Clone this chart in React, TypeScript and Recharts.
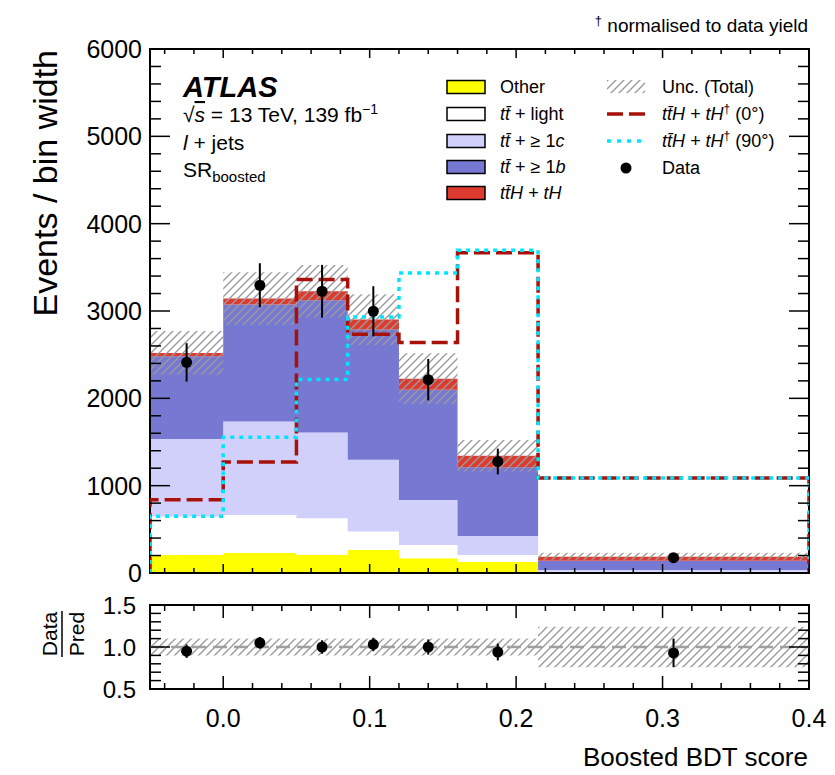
import React from 'react';
import {
  ComposedChart, Area, Line, Scatter, ErrorBar, XAxis, YAxis, ReferenceArea, ReferenceLine,
} from 'recharts';

// bin edges of the boosted BDT score
const binEdges = [-0.05, 0.0, 0.05, 0.085, 0.12, 0.16, 0.215, 0.4];

// stacked predictions (events / bin width), one value per bin
const other = [206, 233, 210, 262, 170, 130, 5];
const ttLight = [440, 432, 417, 212, 151, 76, 10];
const ttC = [888, 1070, 982, 822, 516, 218, 20];
const ttB = [947, 1339, 1514, 1491, 1262, 788, 106];
const ttH = [39, 69, 103, 115, 126, 130, 46];
const uncTotal = [250, 300, 300, 290, 290, 180, 45];

// normalised signal shapes
const shape0 = [840, 1272, 3360, 2734, 2640, 3667, 1087];
const shape90 = [651, 1553, 2215, 2931, 3434, 3697, 1087];

// data
const dataVals = [2412, 3295, 3226, 2997, 2214, 1277, 175];
const dataErr = [220, 252, 302, 287, 237, 147, 35];

// ratio panel
const ratioVals = [0.95, 1.05, 1.0, 1.03, 1.0, 0.94, 0.93];
const ratioErr = [0.08, 0.07, 0.08, 0.08, 0.09, 0.1, 0.17];
const ratioUnc = [0.1, 0.1, 0.1, 0.1, 0.1, 0.1, 0.24];

// axes
const xMajor = [0.0, 0.1, 0.2, 0.3, 0.4];
const yMajor = [0, 1000, 2000, 3000, 4000, 5000, 6000];
const ratioMajor = [0.5, 1.0, 1.5];

const xTicks: number[] = [];
for (let i = -2; i <= 20; i++) xTicks.push(i / 50);
const yTicks: number[] = [];
for (let v = 0; v <= 6000; v += 200) yTicks.push(v);
const ratioTicks: number[] = [];
for (let i = 5; i <= 15; i++) ratioTicks.push(i / 10);

const FONT = '"Liberation Sans", Arial, Helvetica, sans-serif';
const X_DOMAIN: [number, number] = [-0.05, 0.4];
const PLOT_W = 659;
const MAIN_PLOT_H = 524;
const RATIO_PLOT_H = 84;

const COLORS = {
  other: '#ffff00',
  light: '#ffffff',
  c: '#d0d0fb',
  b: '#7678d1',
  tth: '#de3b30',
  dashed: '#a8100a',
  dotted: '#00e5ff',
  hatch: '#9a9a9a',
};

const last = binEdges.length - 1;
const binOf = (i: number) => Math.min(i, last - 1);

const histRows = binEdges.map((x, i) => {
  const b = binOf(i);
  const total = other[b] + ttLight[b] + ttC[b] + ttB[b] + ttH[b];
  return {
    x,
    other: other[b],
    light: ttLight[b],
    c: ttC[b],
    b: ttB[b],
    tth: ttH[b],
    unc: [total - uncTotal[b], total + uncTotal[b]],
  };
});

const ratioRows = binEdges.map((x, i) => {
  const b = binOf(i);
  return { x, band: [1 - ratioUnc[b], 1 + ratioUnc[b]] };
});

const stepRows = (vals: number[]) => [
  { x: binEdges[0], v: 0 },
  ...binEdges.map((x, i) => ({ x, v: vals[binOf(i)] })),
  { x: binEdges[last], v: 0 },
];

const centers = dataVals.map((_, i) => (binEdges[i] + binEdges[i + 1]) / 2);
const dataPoints = dataVals.map((y, i) => ({ x: centers[i], y, err: dataErr[i] }));
const ratioPoints = ratioVals.map((y, i) => ({ x: centers[i], y, err: ratioErr[i] }));

const near = (a: number, list: number[]) => list.some((m) => Math.abs(m - a) < 1e-6);

const makeXTick = (plotH: number, majLen: number, minLen: number, showLabel: boolean) =>
  (props: any) => {
    const { x, y, payload } = props;
    const v = payload.value as number;
    const major = near(v, xMajor);
    const len = major ? majLen : minLen;
    return (
      <g>
        <line x1={x} x2={x} y1={y} y2={y - len} stroke="#000" strokeWidth={1.5} />
        <line x1={x} x2={x} y1={y - plotH} y2={y - plotH + len} stroke="#000" strokeWidth={1.5} />
        {showLabel && major && (
          <text x={x} y={y + 29} textAnchor="middle" dy="0.36em" fontSize={25} fontFamily={FONT} fill="#000">
            {v.toFixed(1)}
          </text>
        )}
      </g>
    );
  };

const makeYTick = (majors: number[], majLen: number, minLen: number, gap: number, fontSize: number, fmt: (v: number) => string) =>
  (props: any) => {
    const { x, y, payload } = props;
    const v = payload.value as number;
    const major = near(v, majors);
    const len = major ? majLen : minLen;
    return (
      <g>
        <line x1={x} x2={x + len} y1={y} y2={y} stroke="#000" strokeWidth={1.5} />
        <line x1={x + PLOT_W} x2={x + PLOT_W - len} y1={y} y2={y} stroke="#000" strokeWidth={1.5} />
        {major && (
          <text x={x - gap} y={y} textAnchor="end" dy="0.36em" fontSize={fontSize} fontFamily={FONT} fill="#000">
            {fmt(v)}
          </text>
        )}
      </g>
    );
  };

const dot = (p: any) => <circle cx={p.cx} cy={p.cy} r={5.5} fill="#000" />;

const tt = <tspan fontStyle="italic">{'tt\u0304'}</tspan>;

const legendLeft = [
  { key: 'other', color: COLORS.other, label: <>Other</> },
  { key: 'light', color: COLORS.light, label: <>{tt} + light</> },
  { key: 'c', color: COLORS.c, label: <>{tt} + {'\u2265'} 1<tspan fontStyle="italic">c</tspan></> },
  { key: 'b', color: COLORS.b, label: <>{tt} + {'\u2265'} 1<tspan fontStyle="italic">b</tspan></> },
  { key: 'tth', color: COLORS.tth, label: <tspan fontStyle="italic">{'tt\u0304H + tH'}</tspan> },
];
const legendRows = [87, 114, 141, 167, 193];

const shapeLabel = (angle: string) => (
  <>
    <tspan fontStyle="italic">{'tt\u0304H + tH'}</tspan>
    <tspan fontSize={12} dy={-7}>{'\u2020'}</tspan>
    <tspan dy={7}>{` (${angle}\u00b0)`}</tspan>
  </>
);

export default function App() {
  return (
    <div style={{ position: 'absolute', left: 0, top: 0, width: 835, height: 775, background: '#fff' }}>
      <div style={{ position: 'absolute', left: 0, top: 0 }}>
        <ComposedChart width={835} height={600} data={histRows} margin={{ top: 49, right: 26, left: 0, bottom: 0 }}>
          <XAxis
            type="number" dataKey="x" domain={X_DOMAIN} allowDataOverflow ticks={xTicks} interval={0}
            height={27} tickSize={0} tickMargin={0} tickLine={false} axisLine={false}
            tick={makeXTick(MAIN_PLOT_H, 9, 5, false)}
          />
          <YAxis
            type="number" domain={[0, 6000]} allowDataOverflow ticks={yTicks} interval={0}
            width={150} tickSize={0} tickMargin={0} tickLine={false} axisLine={false}
            tick={makeYTick(yMajor, 20, 11, 8, 25, (v) => String(v))}
          />
          <Area dataKey="other" stackId="s" type="stepAfter" fill={COLORS.other} fillOpacity={1} stroke="none" isAnimationActive={false} />
          <Area dataKey="light" stackId="s" type="stepAfter" fill={COLORS.light} fillOpacity={1} stroke="none" isAnimationActive={false} />
          <Area dataKey="c" stackId="s" type="stepAfter" fill={COLORS.c} fillOpacity={1} stroke="none" isAnimationActive={false} />
          <Area dataKey="b" stackId="s" type="stepAfter" fill={COLORS.b} fillOpacity={1} stroke="none" isAnimationActive={false} />
          <Area dataKey="tth" stackId="s" type="stepAfter" fill={COLORS.tth} fillOpacity={1} stroke="none" isAnimationActive={false} />
          <Area dataKey="unc" type="stepAfter" fill="url(#hatch)" fillOpacity={1} stroke="none" isAnimationActive={false} />
          <Line data={stepRows(shape0)} dataKey="v" type="stepAfter" stroke={COLORS.dashed} strokeWidth={3.5} strokeDasharray="16 6" dot={false} isAnimationActive={false} />
          <Line data={stepRows(shape90)} dataKey="v" type="stepAfter" stroke={COLORS.dotted} strokeWidth={3.5} strokeDasharray="4 5" dot={false} isAnimationActive={false} />
          <Scatter data={dataPoints} dataKey="y" shape={dot} isAnimationActive={false}>
            <ErrorBar dataKey="err" direction="y" width={0} stroke="#000" strokeWidth={2} />
          </Scatter>
          <ReferenceArea x1={X_DOMAIN[0]} x2={X_DOMAIN[1]} y1={0} y2={6000} fill="none" fillOpacity={0} stroke="#000" strokeWidth={2} />
        </ComposedChart>
      </div>
      <div style={{ position: 'absolute', left: 0, top: 590 }}>
        <ComposedChart width={835} height={185} data={ratioRows} margin={{ top: 15, right: 26, left: 0, bottom: 0 }}>
          <XAxis
            type="number" dataKey="x" domain={X_DOMAIN} allowDataOverflow ticks={xTicks} interval={0}
            height={86} tickSize={0} tickMargin={0} tickLine={false} axisLine={false}
            tick={makeXTick(RATIO_PLOT_H, 13, 6, true)}
          />
          <YAxis
            type="number" domain={[0.5, 1.5]} allowDataOverflow ticks={ratioTicks} interval={0}
            width={150} tickSize={0} tickMargin={0} tickLine={false} axisLine={false}
            tick={makeYTick(ratioMajor, 20, 11, 14, 24, (v) => v.toFixed(1))}
          />
          <Area dataKey="band" type="stepAfter" fill="url(#hatch)" fillOpacity={1} stroke="none" isAnimationActive={false} />
          <ReferenceLine y={1} stroke="#a0a0a0" strokeWidth={2.5} strokeDasharray="14 7" />
          <Scatter data={ratioPoints} dataKey="y" shape={dot} isAnimationActive={false}>
            <ErrorBar dataKey="err" direction="y" width={0} stroke="#000" strokeWidth={2} />
          </Scatter>
          <ReferenceArea x1={X_DOMAIN[0]} x2={X_DOMAIN[1]} y1={0.5} y2={1.5} fill="none" fillOpacity={0} stroke="#000" strokeWidth={2} />
        </ComposedChart>
      </div>
      <svg width={835} height={775} style={{ position: 'absolute', left: 0, top: 0, pointerEvents: 'none' }} fontFamily={FONT}>
        <defs>
          <pattern id="hatch" patternUnits="userSpaceOnUse" width={8} height={8}>
            <path d="M-2,2 l4,-4 M0,8 l8,-8 M6,10 l4,-4" stroke={COLORS.hatch} strokeWidth={1.4} />
          </pattern>
        </defs>
        <text x={808} y={32} textAnchor="end" fontSize={19}>
          <tspan fontSize={13} dy={-7}>{'\u2020'}</tspan>
          <tspan dy={7}> normalised to data yield</tspan>
        </text>
        <text transform="translate(45,50) rotate(-90)" textAnchor="end" dy="0.36em" fontSize={34}>Events / bin width</text>
        <text transform="translate(49,634) rotate(-90)" textAnchor="middle" dy="0.36em" fontSize={21}>Data</text>
        <line x1={62} x2={62} y1={611} y2={657} stroke="#000" strokeWidth={1.5} />
        <text transform="translate(76,634) rotate(-90)" textAnchor="middle" dy="0.36em" fontSize={21}>Pred</text>
        <text x={808} y={766} textAnchor="end" fontSize={26}>Boosted BDT score</text>

        <text x={183} y={97} fontSize={29} fontWeight="bold" fontStyle="italic">ATLAS</text>
        <text x={183} y={122} fontSize={21}>
          {'\u221a'}<tspan fontStyle="italic" textDecoration="overline">s</tspan> = 13 TeV, 139 fb
          <tspan fontSize={14} dy={-8}>{'\u22121'}</tspan>
        </text>
        <text x={183} y={150} fontSize={21}>
          <tspan fontStyle="italic">l</tspan> + jets
        </text>
        <text x={183} y={177} fontSize={21}>
          SR<tspan fontSize={15} dy={5}>boosted</tspan>
        </text>

        {legendLeft.map((item, i) => (
          <g key={item.key}>
            <rect x={447} y={legendRows[i] - 6.5} width={38} height={13} fill={item.color} stroke="#000" strokeWidth={1.5} />
            <text x={500} y={legendRows[i]} dy="0.36em" fontSize={18}>{item.label}</text>
          </g>
        ))}
        <rect x={607} y={80} width={38} height={13} fill="url(#hatch)" />
        <text x={662} y={87} dy="0.36em" fontSize={18}>Unc. (Total)</text>
        <line x1={607} x2={645} y1={114} y2={114} stroke={COLORS.dashed} strokeWidth={3.5} strokeDasharray="16 6" />
        <text x={662} y={114} dy="0.36em" fontSize={18}>{shapeLabel('0')}</text>
        <line x1={607} x2={645} y1={141} y2={141} stroke={COLORS.dotted} strokeWidth={3.5} strokeDasharray="4 6" />
        <text x={662} y={141} dy="0.36em" fontSize={18}>{shapeLabel('90')}</text>
        <circle cx={626} cy={168} r={5.5} fill="#000" />
        <text x={662} y={168} dy="0.36em" fontSize={18}>Data</text>
      </svg>
    </div>
  );
}
